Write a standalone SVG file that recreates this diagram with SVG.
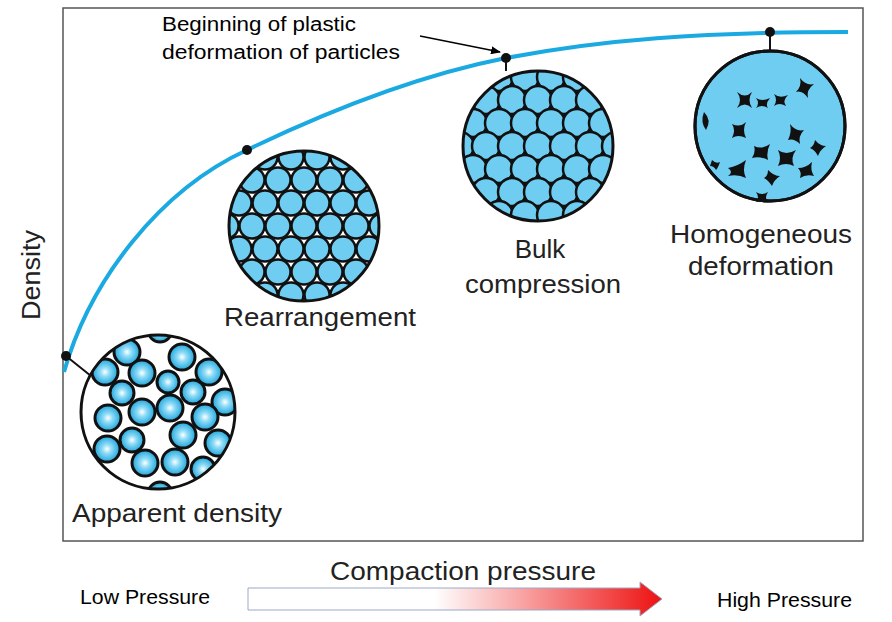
<svg xmlns="http://www.w3.org/2000/svg" xmlns:xlink="http://www.w3.org/1999/xlink" width="892" height="622" viewBox="0 0 892 622">
<style>
.lbl{font-family:"Liberation Sans",Arial,sans-serif;font-size:26px;fill:#222}
.cal{font-family:"Liberation Sans",Arial,sans-serif;font-size:20px;fill:#000}
.sp{fill:url(#sph);stroke:#111;stroke-width:3}
.fl{fill:#6fcdf2;stroke:#111;stroke-width:2.5}
.rim{fill:none;stroke:#111;stroke-width:3}
.dot{fill:#111}
.star{fill:#111}
</style>
<defs>
<radialGradient id="sph" cx="0.5" cy="0.5" r="0.5"><stop offset="0" stop-color="#ffffff"/><stop offset="0.35" stop-color="#8fdcf7"/><stop offset="1" stop-color="#1ea5dc"/></radialGradient>
<linearGradient id="arr" x1="0" y1="0" x2="1" y2="0"><stop offset="0" stop-color="#fff"/><stop offset="0.45" stop-color="#fff"/><stop offset="1" stop-color="#ee1111"/></linearGradient>
<clipPath id="c1"><circle cx="158" cy="412" r="77"/></clipPath>
<clipPath id="c2"><circle cx="304" cy="226" r="75"/></clipPath>
<clipPath id="c3"><circle cx="538" cy="146" r="75"/></clipPath>
<marker id="ah" markerWidth="10" markerHeight="8" refX="9" refY="4" orient="auto" markerUnits="userSpaceOnUse"><path d="M0,0L10,4L0,8z" fill="#000"/></marker>
</defs>
<rect x="63" y="8" width="800" height="533" fill="#fff" stroke="#555" stroke-width="1.5"/>
<g id="connectors">
<path d="M64,372 C90,280 160,190 247,150 C330,110 420,75 506,58 C600,40 700,32 848,32" fill="none" stroke="#1ba9e1" stroke-width="4"/>
<line x1="66" y1="356" x2="96" y2="380" stroke="#111" stroke-width="2"/>
<line x1="506" y1="58" x2="506" y2="71" stroke="#111" stroke-width="2"/>
<line x1="770" y1="32" x2="770" y2="51" stroke="#111" stroke-width="2"/>
<line x1="420" y1="36" x2="500" y2="52" stroke="#000" stroke-width="1.5" marker-end="url(#ah)"/>
<circle class="dot" cx="66" cy="356" r="5"/>
<circle class="dot" cx="247" cy="150" r="5"/>
<circle class="dot" cx="506" cy="58" r="5"/>
<circle class="dot" cx="770" cy="32" r="5"/>
</g>
<g id="apparent">
<circle cx="158" cy="412" r="77" fill="#fff"/>
<g clip-path="url(#c1)">
<circle class="sp" cx="127" cy="352" r="13"/><circle class="sp" cx="182" cy="357" r="13"/><circle class="sp" cx="209" cy="372" r="13"/><circle class="sp" cx="105" cy="372" r="13"/><circle class="sp" cx="142" cy="373" r="13"/><circle class="sp" cx="168" cy="382" r="11"/><circle class="sp" cx="122" cy="393" r="12"/><circle class="sp" cx="193" cy="392" r="12"/><circle class="sp" cx="225" cy="402" r="13"/><circle class="sp" cx="108" cy="418" r="13"/><circle class="sp" cx="142" cy="412" r="13"/><circle class="sp" cx="170" cy="408" r="13"/><circle class="sp" cx="205" cy="417" r="13"/><circle class="sp" cx="132" cy="440" r="12"/><circle class="sp" cx="183" cy="435" r="13"/><circle class="sp" cx="218" cy="443" r="13"/><circle class="sp" cx="107" cy="449" r="13"/><circle class="sp" cx="145" cy="463" r="13"/><circle class="sp" cx="175" cy="462" r="13"/><circle class="sp" cx="203" cy="469" r="12"/><circle class="sp" cx="160" cy="330" r="12"/><circle class="sp" cx="160" cy="494" r="12"/>
</g>
<circle class="rim" cx="158" cy="412" r="77"/>
<text class="lbl" x="72" y="522" textLength="210" lengthAdjust="spacingAndGlyphs">Apparent density</text>
</g>
<g id="rearrangement">
<circle cx="304" cy="226" r="75" fill="#fff"/>
<g clip-path="url(#c2)" class="fl">
<circle cx="239" cy="157" r="12.5"/><circle cx="265" cy="157" r="12.5"/><circle cx="291" cy="157" r="12.5"/><circle cx="317" cy="157" r="12.5"/><circle cx="343" cy="157" r="12.5"/><circle cx="369" cy="157" r="12.5"/>
<circle cx="226" cy="180" r="12.5"/><circle cx="252" cy="180" r="12.5"/><circle cx="278" cy="180" r="12.5"/><circle cx="304" cy="180" r="12.5"/><circle cx="330" cy="180" r="12.5"/><circle cx="356" cy="180" r="12.5"/><circle cx="382" cy="180" r="12.5"/>
<circle cx="239" cy="203" r="12.5"/><circle cx="265" cy="203" r="12.5"/><circle cx="291" cy="203" r="12.5"/><circle cx="317" cy="203" r="12.5"/><circle cx="343" cy="203" r="12.5"/><circle cx="369" cy="203" r="12.5"/>
<circle cx="226" cy="226" r="12.5"/><circle cx="252" cy="226" r="12.5"/><circle cx="278" cy="226" r="12.5"/><circle cx="304" cy="226" r="12.5"/><circle cx="330" cy="226" r="12.5"/><circle cx="356" cy="226" r="12.5"/><circle cx="382" cy="226" r="12.5"/>
<circle cx="239" cy="249" r="12.5"/><circle cx="265" cy="249" r="12.5"/><circle cx="291" cy="249" r="12.5"/><circle cx="317" cy="249" r="12.5"/><circle cx="343" cy="249" r="12.5"/><circle cx="369" cy="249" r="12.5"/>
<circle cx="226" cy="272" r="12.5"/><circle cx="252" cy="272" r="12.5"/><circle cx="278" cy="272" r="12.5"/><circle cx="304" cy="272" r="12.5"/><circle cx="330" cy="272" r="12.5"/><circle cx="356" cy="272" r="12.5"/><circle cx="382" cy="272" r="12.5"/>
<circle cx="239" cy="295" r="12.5"/><circle cx="265" cy="295" r="12.5"/><circle cx="291" cy="295" r="12.5"/><circle cx="317" cy="295" r="12.5"/><circle cx="343" cy="295" r="12.5"/><circle cx="369" cy="295" r="12.5"/>
</g>
<circle class="rim" cx="304" cy="226" r="75"/>
<text class="lbl" x="224" y="326" textLength="192" lengthAdjust="spacingAndGlyphs">Rearrangement</text>
</g>
<g id="bulk">
<circle cx="538" cy="146" r="75" fill="#fff"/>
<g clip-path="url(#c3)" class="fl">
<circle cx="473" cy="77" r="14"/><circle cx="499" cy="77" r="14"/><circle cx="525" cy="77" r="14"/><circle cx="551" cy="77" r="14"/><circle cx="577" cy="77" r="14"/><circle cx="603" cy="77" r="14"/>
<circle cx="460" cy="100" r="14"/><circle cx="486" cy="100" r="14"/><circle cx="512" cy="100" r="14"/><circle cx="538" cy="100" r="14"/><circle cx="564" cy="100" r="14"/><circle cx="590" cy="100" r="14"/><circle cx="616" cy="100" r="14"/>
<circle cx="473" cy="123" r="14"/><circle cx="499" cy="123" r="14"/><circle cx="525" cy="123" r="14"/><circle cx="551" cy="123" r="14"/><circle cx="577" cy="123" r="14"/><circle cx="603" cy="123" r="14"/>
<circle cx="460" cy="146" r="14"/><circle cx="486" cy="146" r="14"/><circle cx="512" cy="146" r="14"/><circle cx="538" cy="146" r="14"/><circle cx="564" cy="146" r="14"/><circle cx="590" cy="146" r="14"/><circle cx="616" cy="146" r="14"/>
<circle cx="473" cy="169" r="14"/><circle cx="499" cy="169" r="14"/><circle cx="525" cy="169" r="14"/><circle cx="551" cy="169" r="14"/><circle cx="577" cy="169" r="14"/><circle cx="603" cy="169" r="14"/>
<circle cx="460" cy="192" r="14"/><circle cx="486" cy="192" r="14"/><circle cx="512" cy="192" r="14"/><circle cx="538" cy="192" r="14"/><circle cx="564" cy="192" r="14"/><circle cx="590" cy="192" r="14"/><circle cx="616" cy="192" r="14"/>
<circle cx="473" cy="215" r="14"/><circle cx="499" cy="215" r="14"/><circle cx="525" cy="215" r="14"/><circle cx="551" cy="215" r="14"/><circle cx="577" cy="215" r="14"/><circle cx="603" cy="215" r="14"/>
</g>
<circle class="rim" cx="538" cy="146" r="75"/>
<text class="lbl" x="540" y="258" text-anchor="middle">Bulk</text>
<text class="lbl" x="543" y="293" text-anchor="middle" textLength="156" lengthAdjust="spacingAndGlyphs">compression</text>
</g>
<g id="homogeneous">
<circle cx="770" cy="126" r="75" fill="#6fcdf2" stroke="#111" stroke-width="3"/>
<g class="star">
<path d="M737,92 Q745,99 752,92 Q747,100 752,108 Q745,101 737,108 Q743,100 737,92z"/>
<path d="M756,98 Q762,102 770,98 Q765,104 768,108 Q762,104 756,108 Q760,103 756,98z"/>
<path d="M774,94 Q780,99 788,95 Q782,101 786,106 Q779,102 774,106 Q778,100 774,94z"/>
<path d="M800,78 Q806,86 814,84 Q806,90 808,98 Q802,90 796,92 Q802,86 800,78z"/>
<path d="M704,112 Q712,120 706,130 Q700,122 704,112z"/>
<path d="M732,124 Q740,128 746,122 Q742,130 746,138 Q738,134 732,138 Q736,130 732,124z"/>
<path d="M790,124 Q796,132 804,130 Q798,136 800,144 Q794,138 788,140 Q792,132 790,124z"/>
<path d="M815,140 Q820,146 826,146 Q820,150 818,156 Q815,150 810,148 Q814,146 815,140z"/>
<path d="M754,146 Q762,150 770,144 Q766,152 768,160 Q760,156 752,158 Q756,152 754,146z"/>
<path d="M778,150 Q786,156 796,150 Q790,158 794,166 Q786,162 778,166 Q782,158 778,150z"/>
<path d="M728,168 Q738,166 746,160 Q742,170 746,178 Q738,174 728,176 Q734,172 728,168z"/>
<path d="M768,170 Q774,176 780,176 Q774,180 772,186 Q768,180 764,178 Q768,176 768,170z"/>
<path d="M798,168 Q806,168 812,162 Q810,170 814,176 Q806,174 800,178 Q802,172 798,168z"/>
<path d="M756,192 Q762,196 768,192 Q764,198 768,202 Q762,200 756,202 Q760,198 756,192z"/>
<path d="M712,160 Q716,164 720,162 Q718,168 716,170 Q714,166 710,166z"/>
</g>
<circle class="rim" cx="770" cy="126" r="75"/>
<text class="lbl" x="761" y="243" text-anchor="middle" textLength="182" lengthAdjust="spacingAndGlyphs">Homogeneous</text>
<text class="lbl" x="761" y="275" text-anchor="middle" textLength="146" lengthAdjust="spacingAndGlyphs">deformation</text>
</g>
<g id="annotation">
<text class="cal" x="162" y="31" textLength="194" lengthAdjust="spacingAndGlyphs">Beginning of plastic</text>
<text class="cal" x="162" y="59" textLength="238" lengthAdjust="spacingAndGlyphs">deformation of particles</text>
</g>
<g id="axes">
<text class="lbl" x="463" y="580" text-anchor="middle" textLength="266" lengthAdjust="spacingAndGlyphs">Compaction pressure</text>
<text class="lbl" transform="translate(40,275) rotate(-90)" text-anchor="middle" textLength="90" lengthAdjust="spacingAndGlyphs">Density</text>
</g>
<g id="pressure">
<text class="cal" x="80" y="604" textLength="130" lengthAdjust="spacingAndGlyphs">Low Pressure</text>
<text class="cal" x="717" y="607" textLength="135" lengthAdjust="spacingAndGlyphs">High Pressure</text>
<path d="M248,588 H640 V582 L662,599 L640,616 V610 H248 Z" fill="url(#arr)" stroke="#9aa8c8" stroke-width="1"/>
</g>
</svg>
